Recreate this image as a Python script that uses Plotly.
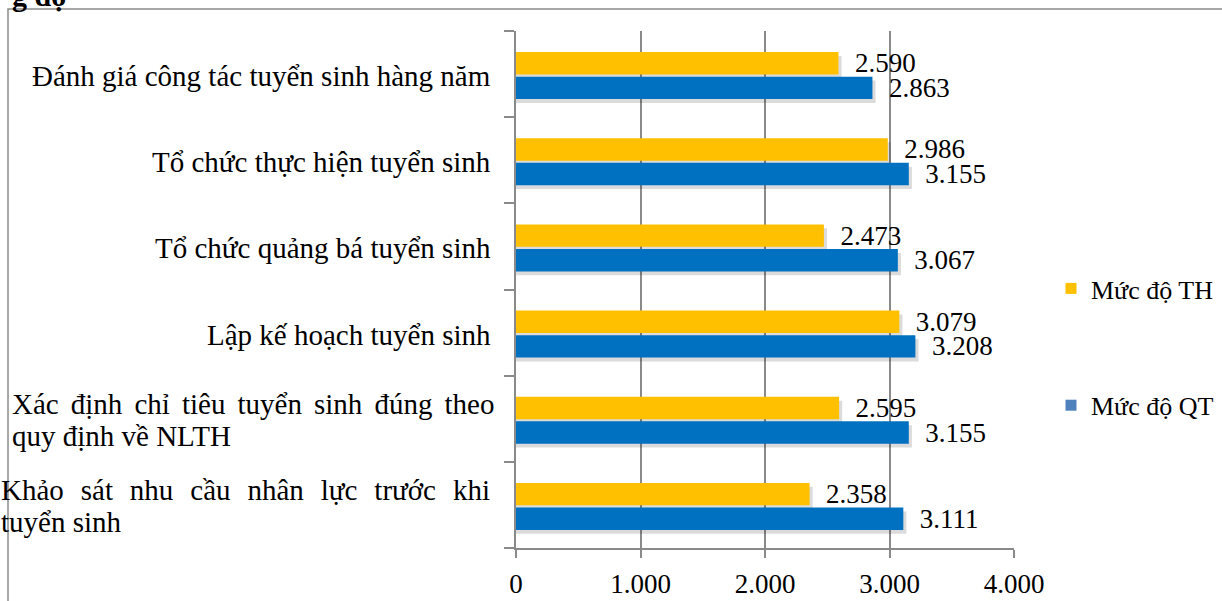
import plotly.graph_objects as go

# Categories listed bottom-to-top as they appear on the y axis
categories = [
    "Khảo sát nhu cầu nhân lực trước khi tuyển sinh",
    "Xác định chỉ tiêu tuyển sinh đúng theo quy định về NLTH",
    "Lập kế hoạch tuyển sinh",
    "Tổ chức quảng bá tuyển sinh",
    "Tổ chức thực hiện tuyển sinh",
    "Đánh giá công tác tuyển sinh hàng năm",
]
# Label lines drawn beside each category
category_lines = [
    ["Khảo sát nhu cầu nhân lực trước khi", "tuyển sinh"],
    ["Xác định chỉ tiêu tuyển sinh đúng theo", "quy định về NLTH"],
    ["Lập kế hoạch tuyển sinh"],
    ["Tổ chức quảng bá tuyển sinh"],
    ["Tổ chức thực hiện tuyển sinh"],
    ["Đánh giá công tác tuyển sinh hàng năm"],
]
muc_do_th = [2.358, 2.595, 3.079, 2.473, 2.986, 2.590]
muc_do_qt = [3.111, 3.155, 3.208, 3.067, 3.155, 2.863]

x_ticks = [0, 1, 2, 3, 4]
x_tick_text = ["0", "1.000", "2.000", "3.000", "4.000"]

FONT = '"Liberation Serif", "Times New Roman", serif'
GRID = "#8a8a8a"
C_TH = "#FFC000"
C_QT = "#0070C0"
SHADOW = "rgba(0,0,0,0.14)"

# plot box in pixels
L, R, T, B = 516, 1014, 31, 548
PW, PH = R - L, B - T


def px_x(p):
    return (p - L) / PW


def px_y(p):
    return (B - p) / PH


BAR_W = 0.26
OFF_TH = -0.005
OFF_QT = -0.29
SH_DY = 0.045      # shadow drop, in category units
SH_DX = 0.025      # shadow reach past the bar end, in x units

fig = go.Figure()

# soft drop shadows under the bars
for vals, off in ((muc_do_th, OFF_TH), (muc_do_qt, OFF_QT)):
    fig.add_trace(go.Bar(
        y=categories, x=[v + SH_DX for v in vals], orientation="h",
        width=BAR_W, offset=off - SH_DY,
        marker=dict(color=SHADOW, line=dict(width=0)),
        hoverinfo="skip", showlegend=False,
    ))

fig.add_trace(go.Bar(
    y=categories, x=muc_do_th, orientation="h", name="Mức độ TH",
    width=BAR_W, offset=OFF_TH,
    marker=dict(color=C_TH, line=dict(width=0)),
    texttemplate="\u00a0\u00a0%{x:.3f}", textposition="outside",
    textfont=dict(family=FONT, size=27, color="black"),
    constraintext="none", cliponaxis=False, showlegend=False,
))
fig.add_trace(go.Bar(
    y=categories, x=muc_do_qt, orientation="h", name="Mức độ QT",
    width=BAR_W, offset=OFF_QT,
    marker=dict(color=C_QT, line=dict(width=0)),
    texttemplate="\u00a0\u00a0%{x:.3f}", textposition="outside",
    textfont=dict(family=FONT, size=27, color="black"),
    constraintext="none", cliponaxis=False, showlegend=False,
))

# Legend entries (TH listed first, QT below)
fig.add_trace(go.Scatter(
    x=[None], y=[None], mode="markers", name="Mức độ TH", legendgroup="th",
    marker=dict(symbol="square", size=11, color=C_TH),
))
fig.add_trace(go.Scatter(
    x=[None], y=[None], mode="markers", name="Mức độ QT", legendgroup="qt",
    marker=dict(symbol="square", size=11, color="#4F81BD"),
))

annotations = []
LABEL_SIZE = 29
for cat, lines in zip(categories, category_lines):
    if len(lines) == 2:
        # two-line labels: first line justified across the label column
        wide = lines[0].startswith("Khảo")
        left_px = -1 if wide else 10
        gap = "\u2002\u200a" if wide else "\u00a0\u2006"
        first = gap.join(lines[0].split(" "))
        for txt, dy in ((first, 15), (lines[1], -17)):
            annotations.append(dict(
                x=px_x(left_px), xref="paper", y=cat, yref="y", yshift=dy,
                text=txt, showarrow=False, xanchor="left", align="left",
                font=dict(family=FONT, size=LABEL_SIZE, color="black"),
            ))
    else:
        annotations.append(dict(
            x=px_x(493), xref="paper", y=cat, yref="y", yshift=-2,
            text=lines[0], showarrow=False, xanchor="right", align="right",
            font=dict(family=FONT, size=LABEL_SIZE, color="black"),
        ))

# Title fragment running off the top edge
annotations.append(dict(
    x=px_x(10), xref="paper", y=px_y(14), yref="paper",
    text="<b>g độ</b>", showarrow=False, xanchor="left", yanchor="bottom",
    font=dict(family=FONT, size=30, color="black"),
))

fig.update_layout(
    width=1222, height=601,
    margin=dict(l=L, r=1222 - R, t=T, b=601 - B, autoexpand=False),
    paper_bgcolor="white", plot_bgcolor="white",
    barmode="overlay",
    font=dict(family=FONT, size=27, color="black"),
    annotations=annotations,
    shapes=[dict(
        type="rect", xref="paper", yref="paper",
        x0=px_x(8), x1=px_x(1300), y0=px_y(640), y1=px_y(9),
        line=dict(color="#8c8c8c", width=1.5), layer="below",
    )],
    legend=dict(
        x=px_x(1051), xanchor="left",
        y=px_y(347), yanchor="middle",
        traceorder="grouped", tracegroupgap=80,
        font=dict(family=FONT, size=26, color="black"),
        bgcolor="rgba(0,0,0,0)", itemwidth=30,
    ),
    xaxis=dict(
        range=[0, 4], tickvals=x_ticks, ticktext=x_tick_text,
        showgrid=True, gridcolor=GRID, gridwidth=1.5,
        showline=True, linecolor=GRID, linewidth=1.5,
        ticks="outside", ticklen=8, tickwidth=1.5, tickcolor=GRID,
        zeroline=False, ticklabelstandoff=3,
        tickfont=dict(family=FONT, size=27, color="black"),
    ),
    yaxis=dict(
        type="category", categoryorder="array", categoryarray=categories,
        range=[-0.5, len(categories) - 0.5],
        showticklabels=False, showgrid=False, zeroline=False,
        showline=True, linecolor=GRID, linewidth=1.5,
        ticks="outside", ticklen=10, tickwidth=1.5, tickcolor=GRID,
        tickson="boundaries",
    ),
)

fig.write_html("out.html")
